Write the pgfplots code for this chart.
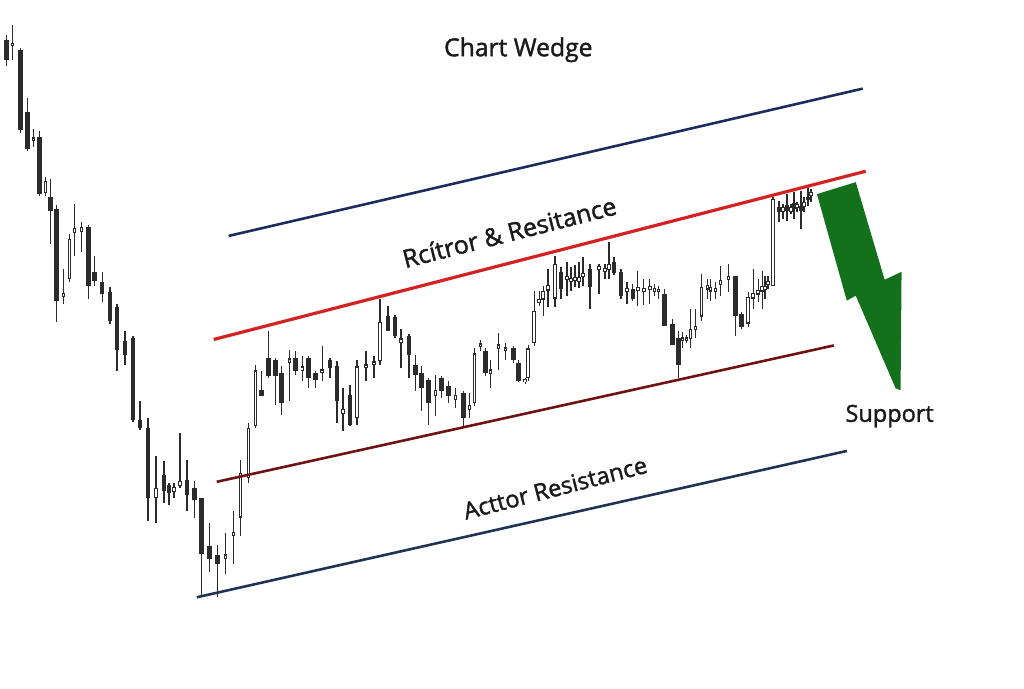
\documentclass[border=0pt]{standalone}
\usepackage{pgfplots}
\usepackage{pgfplotstable}
\pgfplotsset{compat=1.18}
\usepackage{fontspec}
\setmainfont{Open Sans}
\newfontfamily\medfont[FakeBold=1.6]{Open Sans}
\definecolor{candle}{HTML}{2B2B2B}
\definecolor{resred}{HTML}{D42222}
\definecolor{topnavy}{HTML}{1B2D5C}
\definecolor{maroon}{HTML}{6E1212}
\definecolor{botnavy}{HTML}{1F3352}
\definecolor{arrowgreen}{HTML}{12711A}
\definecolor{txt}{HTML}{1A1A1A}

% x, open, high, low, close (pixel y, downwards)
\pgfplotstableread{
x o h l c
2 40 35 66 60
16 50 48 134 131
23 113 98 152 150
35 138 132 197 195
46 198 180 245 212
52 210 206 323 302
84 228 226 300 287
90 273 257 287 282
98 283 273 303 295
106 293 288 325 322
113 308 305 373 352
121 343 332 367 357
129 340 338 424 422
136 422 403 432 430
144 430 420 523 500
160 477 463 505 493
165 487 485 507 495
183 482 462 513 497
191 490 483 520 502
198 500 500 598 557
206 548 525 575 562
214 558 547 600 567
258 392 373 398 398
265 360 333 380 378
272 362 360 407 378
278 375 368 417 405
292 360 353 377 373
305 360 358 390 380
312 375 373 390 382
327 362 360 380 370
334 368 363 425 403
347 397 387 428 427
385 317 307 332 332
392 318 316 340 338
406 338 336 380 357
413 367 357 393 377
419 375 368 413 390
426 382 380 427 405
439 380 378 400 393
446 388 383 405 398
461 395 393 430 420
483 353 350 378 375
511 350 348 365 362
516 365 362 384 383
559 273 268 300 290
588 270 265 310 288
612 263 258 276 274
619 273 270 300 297
631 290 285 302 300
663 295 290 327 327
671 325 320 347 347
677 340 332 380 367
734 277 277 338 317
740 315 313 330 328
778 208 202 223 213
786 206 195 222 212
793 204 193 220 210
800 207 192 230 212
807 198 188 207 201
}\dark

\pgfplotstableread{
x o h l c
8 46 25 60 43
29 142 130 148 138
41 194 178 197 182
59 298 270 305 294
65 280 235 283 240
70 234 205 257 229
77 233 223 253 228
152 500 458 525 490
170 494 485 500 489
176 488 435 490 483
222 562 535 577 557
230 538 513 567 534
237 520 462 538 475
245 480 425 485 430
252 428 367 430 372
286 365 352 403 360
299 373 358 383 368
319 375 348 383 371
340 416 390 433 411
354 420 362 427 368
363 370 353 383 366
371 367 358 380 363
377 363 300 367 323
398 345 330 370 340
433 398 377 418 392
453 402 390 410 397
467 412 395 420 407
472 405 350 408 355
478 349 342 353 345
488 376 362 390 371
496 351 335 372 346
503 353 345 362 349
523 384 380 386 381
526 380 347 383 350
532 345 292 348 312
537 304 292 307 300
541 301 287 317 292
546 292 270 308 286
553 300 257 308 265
565 281 263 297 277
569 283 268 292 279
573 282 266 288 278
577 283 263 289 278
581 278 258 287 274
597 271 265 295 267
603 273 265 280 269
607 271 243 280 265
625 293 283 305 289
636 292 272 307 288
642 293 280 306 289
648 291 280 305 287
653 293 285 297 289
657 293 287 300 290
681 343 334 350 339
685 343 337 345 339
689 341 310 350 330
694 331 310 340 327
700 318 275 322 288
706 291 280 300 286
709 293 280 302 288
714 293 283 300 289
719 286 267 297 281
727 281 265 293 277
747 325 293 328 298
752 300 270 310 294
757 296 280 303 291
761 293 272 310 287
764 291 277 300 287
767 286 277 290 282
772 287 198 287 200
782 213 205 220 208
790 213 205 215 208
796 209 203 213 205
803 208 198 213 203
810 197 190 203 193
}\hollow

\begin{document}
\begin{tikzpicture}
\begin{axis}[
  width=512pt, height=346pt, scale only axis,
  xmin=0, xmax=1024, ymin=0, ymax=692, y dir=reverse,
  hide axis, clip=false,
]
% keep the full canvas
\addplot[draw=none, forget plot] coordinates {(0,0) (1024,692)};
% wicks
\addplot[draw=none, forget plot, error bars/.cd, y dir=both, y explicit, error mark=none,
  error bar style={draw=candle, line width=0.7pt}]
  table[x=x, y expr={(\thisrow{h}+\thisrow{l})/2}, y error expr={(\thisrow{l}-\thisrow{h})/2}] {\dark};
\addplot[draw=none, forget plot, error bars/.cd, y dir=both, y explicit, error mark=none,
  error bar style={draw=candle, line width=0.7pt}]
  table[x=x, y expr={(\thisrow{h}+\thisrow{l})/2}, y error expr={(\thisrow{l}-\thisrow{h})/2}] {\hollow};
% dark bodies
\addplot[draw=none, forget plot, error bars/.cd, y dir=both, y explicit, error mark=none,
  error bar style={draw=candle, line width=2.3pt}]
  table[x=x, y expr={(\thisrow{o}+\thisrow{c})/2}, y error expr={max(abs(\thisrow{c}-\thisrow{o})/2,1)}] {\dark};
% hollow bodies
\addplot[draw=none, forget plot, error bars/.cd, y dir=both, y explicit, error mark=none,
  error bar style={draw=candle, line width=1.8pt}]
  table[x=x, y expr={(\thisrow{o}+\thisrow{c})/2}, y error expr={max(abs(\thisrow{c}-\thisrow{o})/2,1)}] {\hollow};
\addplot[draw=none, forget plot, error bars/.cd, y dir=both, y explicit, error mark=none,
  error bar style={draw=white, line width=0.8pt}]
  table[x=x, y expr={(\thisrow{o}+\thisrow{c})/2}, y error expr={max(abs(\thisrow{c}-\thisrow{o})/2-1.2,0)}] {\hollow};

% trend lines
\addplot[topnavy, line width=1.3pt] coordinates {(225,237) (862,89)};
\addplot[resred, line width=1.6pt] coordinates {(210,341) (865,172)};
\addplot[maroon, line width=1.3pt] coordinates {(213,484) (833,347)};
\addplot[botnavy, line width=1.3pt] coordinates {(193,600) (846,453)};

% green arrow
\addplot[fill=arrowgreen, draw=none] coordinates {
  (816,195) (855,183) (884,281) (901,273) (900,392) (895,390) (855,297) (846,302)
} -- cycle;

% texts
\node[txt, font=\medfont\fontsize{12.4}{14}\selectfont] at (axis cs:516,50) {Chart Wedge};
\node[txt, font=\medfont\fontsize{11.8}{14}\selectfont] at (axis cs:889,418) {Support};
\node[txt, rotate=14.3, font=\medfont\fontsize{12.5}{14}\selectfont] at (axis cs:507,233) {Rcítror \& Resitance};
\node[txt, rotate=14.5, font=\medfont\fontsize{11.8}{13}\selectfont] at (axis cs:553,490) {Acttor Resistance};
\end{axis}
\end{tikzpicture}
\end{document}
